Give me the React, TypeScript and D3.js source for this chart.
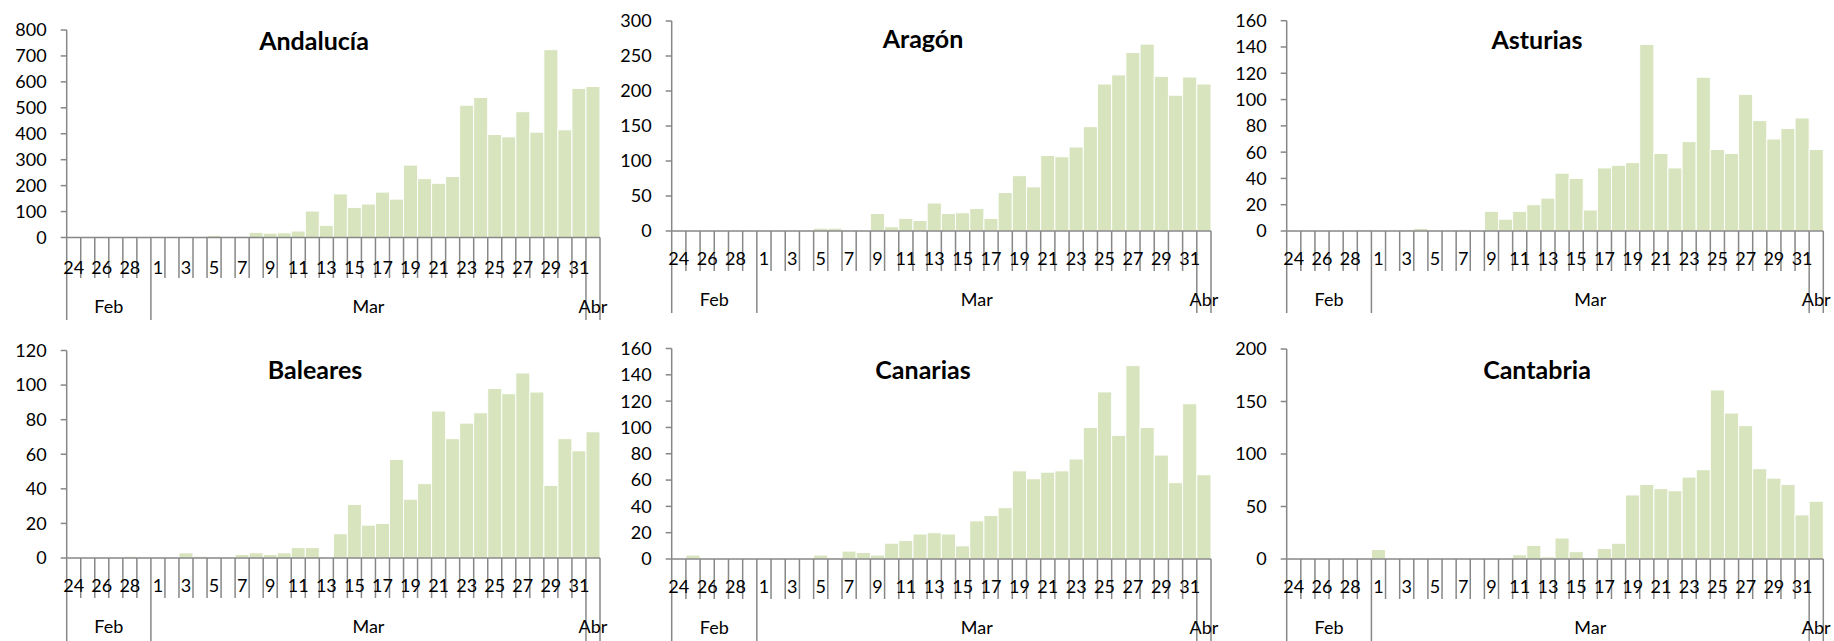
import React from 'react';
import * as d3 from 'd3';

// categories: 24 Feb .. 1 Abr 2020
const dayLabels = [
  '24', '25', '26', '27', '28', '29',
  '1', '2', '3', '4', '5', '6', '7', '8', '9', '10', '11', '12', '13', '14', '15', '16',
  '17', '18', '19', '20', '21', '22', '23', '24', '25', '26', '27', '28', '29', '30', '31',
  '1',
];
const monthLabels = ['Feb', 'Mar', 'Abr'];
const monthLengths = [6, 31, 1];

// daily values per region
const andalucia = [
  0, 0, 0, 1, 0, 0,
  0, 0, 0, 0, 8, 5, 5, 20, 17, 18, 25, 102, 47, 168, 116, 129, 175, 148, 279, 227, 209, 235, 510, 540, 397, 388, 485, 406, 724, 415, 575,
  582,
];
const aragon = [
  0, 0, 0, 0, 0, 0,
  0, 0, 0, 0, 4, 4, 0, 1, 25, 6, 18, 15, 40, 25, 26, 32, 18, 55, 79, 63, 108, 106, 120, 149, 210, 223, 255, 267, 221, 194, 220,
  210,
];
const asturias = [
  0, 0, 0, 0, 0, 1,
  0, 0, 1, 2, 0, 0, 1, 0, 15, 9, 15, 20, 25, 44, 40, 16, 48, 50, 52, 142, 59, 48, 68, 117, 62, 59, 104, 84, 70, 78, 86,
  62,
];
const baleares = [
  0, 0, 0, 0, 1, 0,
  0, 0, 3, 1, 0, 0, 2, 3, 2, 3, 6, 6, 0, 14, 31, 19, 20, 57, 34, 43, 85, 69, 78, 84, 98, 95, 107, 96, 42, 69, 62,
  73,
];
const canarias = [
  0, 3, 0, 0, 0, 0,
  0, 0, 0, 0, 3, 1, 6, 5, 3, 12, 14, 19, 20, 19, 10, 29, 33, 39, 67, 61, 66, 67, 76, 100, 127, 94, 147, 100, 79, 58, 118,
  64,
];
const cantabria = [
  0, 0, 0, 0, 0, 0,
  9, 0, 0, 0, 0, 0, 1, 0, 0, 0, 4, 13, 2, 20, 7, 0, 10, 15, 61, 71, 67, 65, 78, 85, 161, 139, 127, 86, 77, 71, 42,
  55,
];

const andaluciaTicks = [0, 100, 200, 300, 400, 500, 600, 700, 800];
const aragonTicks = [0, 50, 100, 150, 200, 250, 300];
const asturiasTicks = [0, 20, 40, 60, 80, 100, 120, 140, 160];
const balearesTicks = [0, 20, 40, 60, 80, 100, 120];
const canariasTicks = [0, 20, 40, 60, 80, 100, 120, 140, 160];
const cantabriaTicks = [0, 50, 100, 150, 200];

const regions = [
  { name: 'Andalucía', values: andalucia, ticks: andaluciaTicks },
  { name: 'Aragón', values: aragon, ticks: aragonTicks },
  { name: 'Asturias', values: asturias, ticks: asturiasTicks },
  { name: 'Baleares', values: baleares, ticks: balearesTicks },
  { name: 'Canarias', values: canarias, ticks: canariasTicks },
  { name: 'Cantabria', values: cantabria, ticks: cantabriaTicks },
];

// panel frames (layout only)
const frames = [
  { x0: 66.7, x1: 600, top: 30, base: 237.5, titleX: 314, titleY: 50, dayDy: 36, monthDy: 75.5, tickLen: 40.5, sepBottom: 320 },
  { x0: 671.7, x1: 1211, top: 21, base: 231, titleX: 923, titleY: 48, dayDy: 34, monthDy: 75, tickLen: 40, sepBottom: 313 },
  { x0: 1286.7, x1: 1823.3, top: 20.7, base: 231, titleX: 1537, titleY: 49, dayDy: 34, monthDy: 75, tickLen: 40, sepBottom: 313 },
  { x0: 66.7, x1: 600, top: 350.5, base: 558, titleX: 315, titleY: 379, dayDy: 34, monthDy: 75, tickLen: 40, sepBottom: 641 },
  { x0: 671.7, x1: 1211, top: 348.5, base: 559, titleX: 923, titleY: 379, dayDy: 34, monthDy: 75, tickLen: 40, sepBottom: 641 },
  { x0: 1286.7, x1: 1823.3, top: 349, base: 559, titleX: 1537, titleY: 379, dayDy: 34, monthDy: 75, tickLen: 40, sepBottom: 641 },
];

const FONT = 'Lato, "Open Sans", sans-serif';
const AXIS = '#878787';
const BAR = '#d7e4bd';
const LABEL_SIZE = 18;

function Panel({ region, frame }) {
  const n = dayLabels.length;
  const x = d3.scaleBand<number>().domain(d3.range(n)).range([frame.x0, frame.x1]).padding(0);
  const yMax = region.ticks[region.ticks.length - 1];
  const y = d3.scaleLinear().domain([0, yMax]).range([frame.base, frame.top]);

  // month boundaries as category indices
  const bounds = [0];
  monthLengths.forEach((m) => bounds.push(bounds[bounds.length - 1] + m));
  const bx = (i) => (i >= n ? frame.x1 : x(i));

  return (
    <g>
      {region.values.map((v, i) =>
        v > 0 ? (
          <rect
            key={i}
            x={x(i)}
            y={y(v)}
            width={x.bandwidth()}
            height={frame.base - y(v)}
            fill={BAR}
            stroke="#fff"
            strokeWidth={1}
          />
        ) : null
      )}

      {/* y axis */}
      <line x1={frame.x0} x2={frame.x0} y1={y(yMax)} y2={frame.base} stroke={AXIS} strokeWidth={1.5} />
      {region.ticks.map((t) => (
        <g key={t}>
          <line x1={frame.x0 - 6} x2={frame.x0} y1={y(t)} y2={y(t)} stroke={AXIS} strokeWidth={1.5} />
          <text
            x={frame.x0 - 20}
            y={y(t) + 6.4}
            textAnchor="end"
            fontFamily={FONT}
            fontSize={LABEL_SIZE}
            fill="#000"
          >
            {t}
          </text>
        </g>
      ))}

      {/* x axis, two-level categories */}
      <line x1={frame.x0} x2={frame.x1} y1={frame.base} y2={frame.base} stroke={AXIS} strokeWidth={1.5} />
      {d3.range(1, n).filter((i) => !bounds.includes(i)).map((i) => (
        <line key={i} x1={x(i)} x2={x(i)} y1={frame.base} y2={frame.base + frame.tickLen} stroke={AXIS} strokeWidth={1.5} />
      ))}
      {bounds.map((b) => (
        <line key={'b' + b} x1={bx(b)} x2={bx(b)} y1={frame.base} y2={frame.sepBottom} stroke={AXIS} strokeWidth={1.5} />
      ))}
      {dayLabels.map((d, i) =>
        i % 2 === 0 ? (
          <text
            key={'d' + i}
            x={x(i) + x.bandwidth() / 2}
            y={frame.base + frame.dayDy}
            textAnchor="middle"
            fontFamily={FONT}
            fontSize={LABEL_SIZE}
            fill="#000"
          >
            {d}
          </text>
        ) : null
      )}
      {monthLabels.map((m, k) => (
        <text
          key={m}
          x={(bx(bounds[k]) + bx(bounds[k + 1])) / 2}
          y={frame.base + frame.monthDy}
          textAnchor="middle"
          fontFamily={FONT}
          fontSize={LABEL_SIZE}
          fill="#000"
        >
          {m}
        </text>
      ))}

      <text
        x={frame.titleX}
        y={frame.titleY}
        textAnchor="middle"
        fontFamily={FONT}
        fontWeight="bold"
        fontSize={25}
        fill="#000"
      >
        {region.name}
      </text>
    </g>
  );
}

export default function App() {
  return (
    <svg
      width={1834}
      height={641}
      style={{ position: 'absolute', left: 0, top: 0, background: '#fff' }}
    >
      {regions.map((r, i) => (
        <Panel key={r.name} region={r} frame={frames[i]} />
      ))}
    </svg>
  );
}
